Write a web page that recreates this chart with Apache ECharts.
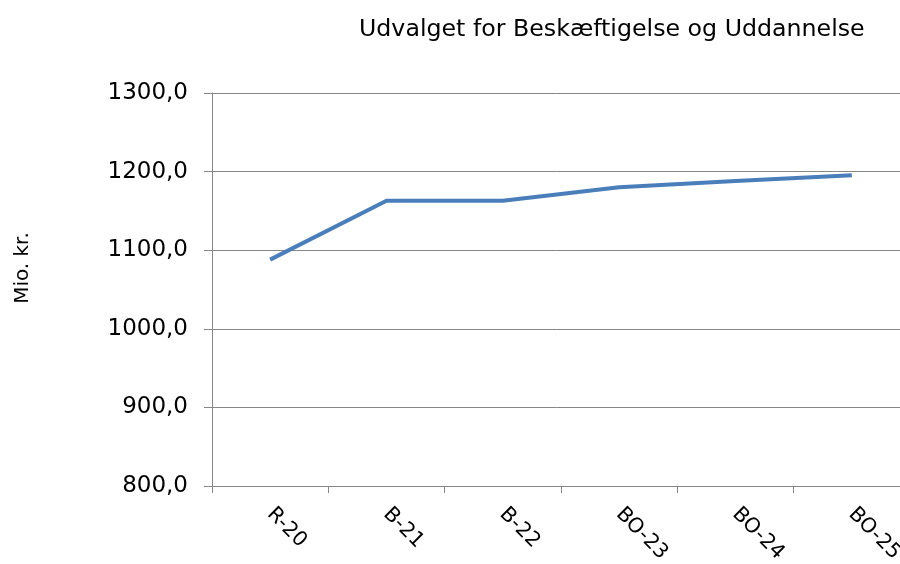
<!DOCTYPE html>
<html>
<head>
<meta charset="utf-8">
<script src="https://cdn.jsdelivr.net/npm/echarts@6/dist/echarts.min.js"></script>
<style>html,body{margin:0;padding:0;background:#fff}#c{width:900px;height:564px}</style>
</head>
<body>
<div id="c"></div>
<script>
const categories = ['R-20', 'B-21', 'B-22', 'BO-23', 'BO-24', 'BO-25'];
const values = [1088.0, 1163.0, 1163.0, 1180.0, 1188.0, 1195.5];
const yTicks = [800, 900, 1000, 1100, 1200, 1300];
const titleText = 'Udvalget for Beskæftigelse og Uddannelse';
const yAxisName = 'Mio. kr.';

const chart = echarts.init(document.getElementById('c'), null, {renderer: 'canvas'});
const font = 'DejaVu Sans, Verdana, sans-serif';
chart.setOption({
  animation: false,
  backgroundColor: '#ffffff',
  title: {
    text: titleText,
    left: 354, top: 13,
    textStyle: {fontFamily: font, fontSize: 23.7, fontWeight: 'normal', color: '#000'}
  },
  graphic: [{
    type: 'text',
    x: 23, y: 268,
    rotation: Math.PI / 2,
    style: {
      text: yAxisName, fontFamily: font, fontSize: 20, fill: '#000',
      align: 'center', verticalAlign: 'middle'
    }
  }],
  grid: {left: 212, top: 93, width: 698, height: 393, containLabel: false, outerBoundsMode: 'none'},
  xAxis: {
    type: 'category',
    data: categories,
    boundaryGap: true,
    axisLine: {show: true, lineStyle: {color: '#868686', width: 1}},
    axisTick: {show: true, length: 7, lineStyle: {color: '#868686'}},
    axisLabel: {rotate: -45, margin: 25, fontFamily: font, fontSize: 20.5, color: '#000'}
  },
  yAxis: {
    type: 'value',
    min: yTicks[0], max: yTicks[yTicks.length - 1], interval: 100,
    axisLine: {show: true, lineStyle: {color: '#868686', width: 1}},
    axisTick: {show: true, length: 8, lineStyle: {color: '#868686'}},
    splitLine: {show: true, lineStyle: {color: '#868686', width: 1}},
    axisLabel: {
      margin: 24, fontFamily: font, fontSize: 23, color: '#000',
      formatter: v => v.toFixed(1).replace('.', ',')
    }
  },
  series: [{
    type: 'line',
    data: values,
    symbol: 'none',
    lineStyle: {color: '#4a7ebb', width: 4}
  }]
});
</script>
</body>
</html>
